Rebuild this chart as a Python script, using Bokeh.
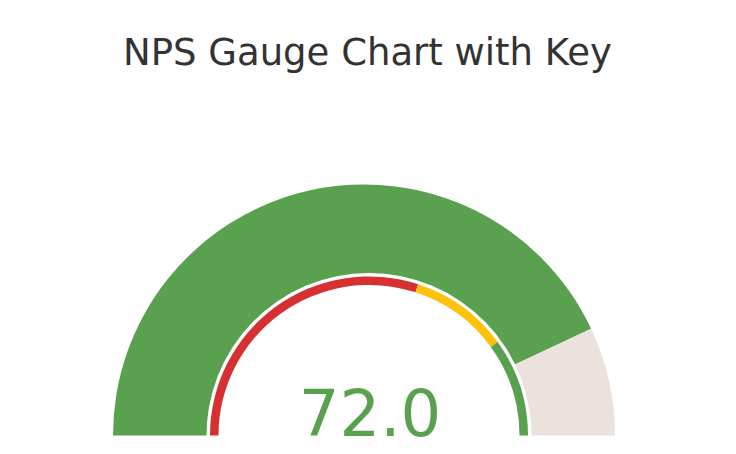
from bokeh.plotting import figure
from bokeh.models import Range1d
from bokeh.embed import file_html
from bokeh.resources import INLINE
from bokeh.core.properties import value
import math

# ---- data ----
title_text = "NPS Gauge Chart with Key"
scale_min = -100
scale_max = 100
nps_value = 72.0
key_bounds = [-100, 20, 60, 100]
key_colors = ["#d63032", "#fdc20c", "#59a14f"]
value_color = "#59a14f"
rest_color = "#ece2dd"


def ang(v):
    return math.pi * (1 - (v - scale_min) / (scale_max - scale_min))


W, H = 720, 454
p = figure(width=W, height=H, output_backend="svg", toolbar_location=None,
           x_range=Range1d(0, W), y_range=Range1d(0, H), min_border=0,
           title=None)
p.axis.visible = False
p.grid.visible = False
p.outline_line_color = None
p.background_fill_color = "white"
p.border_fill_color = "white"

# geometry (pixel-like data units)
cy = 19
cx_o = 363.5
r_o = 251
cx_i = 368.5
r_hole = 162.5
r_key_in, r_key_out = 150.5, 159

# outer pie: value part and remainder
p.wedge(x=cx_o, y=cy, radius=r_o, start_angle=ang(nps_value), end_angle=ang(scale_min),
        fill_color=value_color, line_color=None)
p.wedge(x=cx_o, y=cy, radius=r_o, start_angle=ang(scale_max), end_angle=ang(nps_value),
        fill_color=rest_color, line_color=None)
# white hole (slightly past the half so no seam shows at the bottom edge)
p.wedge(x=cx_i, y=cy, radius=r_hole, start_angle=-0.03, end_angle=math.pi + 0.03,
        fill_color="white", line_color=None)

# key ring
starts = [ang(b) for b in key_bounds[1:]]
ends = [ang(b) for b in key_bounds[:-1]]
p.annular_wedge(x=[cx_i] * 3, y=[cy] * 3, inner_radius=r_key_in, outer_radius=r_key_out,
                start_angle=starts, end_angle=ends, fill_color=key_colors, line_color=None)

# value label
p.text(x=[369.5], y=[66], text=[f"{nps_value:.1f}"], text_align="center",
       text_baseline="top", text_font=value("DejaVu Sans"),
       text_font_size="64px", text_color=value_color)

# title
p.text(x=[367], y=[424], text=[title_text], text_align="center",
       text_baseline="top", text_font=value("DejaVu Sans"),
       text_font_size="37px", text_color="#333333")

open("out.html", "w").write(file_html(p, INLINE))
